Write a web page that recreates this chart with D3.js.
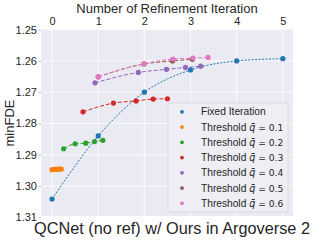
<!DOCTYPE html>
<html>
<head>
<meta charset="utf-8">
<script src="https://cdn.jsdelivr.net/npm/d3@7"></script>
<style>
  body { margin: 0; background: #fff; }
  text { font-family: "Liberation Sans", Arial, sans-serif; fill: #262626; }
</style>
</head>
<body>
<div id="chart"></div>
<script>
var width = 327, height = 245;
var plotLeft = 41, plotRight = 293, plotTop = 29, plotBottom = 216;

var xTicks = [0, 1, 2, 3, 4, 5];
var yTicks = [1.25, 1.26, 1.27, 1.28, 1.29, 1.30, 1.31];

var fixedX = [0, 1, 2, 3, 4, 5];
var fixedY = [1.3042, 1.2840, 1.2700, 1.2629, 1.2600, 1.2593];

var q1X = [0.0, 0.04, 0.08, 0.12, 0.16, 0.2];
var q1Y = [1.2948, 1.2947, 1.2947, 1.2946, 1.2946, 1.2946];
var q2X = [0.25, 0.50, 0.73, 0.92, 1.10];
var q2Y = [1.2881, 1.2865, 1.2863, 1.2858, 1.2854];
var q3X = [0.67, 1.33, 1.82, 2.19, 2.50];
var q3Y = [1.2763, 1.2735, 1.2728, 1.2722, 1.2721];
var q4X = [0.93, 1.87, 2.48, 2.89, 3.22];
var q4Y = [1.2670, 1.2637, 1.2627, 1.2621, 1.2617];
var q5X = [1.0, 1.99, 2.61, 3.04];
var q5Y = [1.2651, 1.2610, 1.2600, 1.2595];
var q6X = [1.0, 1.99, 2.62, 3.05, 3.38];
var q6Y = [1.2651, 1.2609, 1.2594, 1.2591, 1.2589];

var legendLabels = ['Fixed Iteration', '0.1', '0.2', '0.3', '0.4', '0.5', '0.6'];
var colors = ['#1f77b4', '#ff7f0e', '#2ca02c', '#d62728', '#9467bd', '#8c564b', '#e377c2'];

var series = [
  { xs: fixedX, ys: fixedY, dash: '2,1.5' },
  { xs: q1X, ys: q1Y, dash: '4,2' },
  { xs: q2X, ys: q2Y, dash: '4,2' },
  { xs: q3X, ys: q3Y, dash: '4,2' },
  { xs: q4X, ys: q4Y, dash: '4,2' },
  { xs: q5X, ys: q5Y, dash: '4,2' },
  { xs: q6X, ys: q6Y, dash: '4,2' }
];

var svg = d3.select('#chart').append('svg')
  .attr('width', width)
  .attr('height', height);

var x = d3.scaleLinear().domain([-0.24, 5.22]).range([plotLeft, plotRight]);
var y = d3.scaleLinear().domain([1.2498, 1.3096]).range([plotTop, plotBottom]);

svg.append('rect')
  .attr('x', plotLeft).attr('y', plotTop)
  .attr('width', plotRight - plotLeft).attr('height', plotBottom - plotTop)
  .attr('fill', '#eaeaf2');

// grid
svg.append('g').selectAll('line')
  .data(xTicks)
  .enter().append('line')
  .attr('x1', function(d) { return x(d); })
  .attr('x2', function(d) { return x(d); })
  .attr('y1', plotTop).attr('y2', plotBottom)
  .attr('stroke', '#fff').attr('stroke-width', 0.8);

svg.append('g').selectAll('line')
  .data(yTicks.filter(function(d) { return y(d) > plotTop && y(d) < plotBottom; }))
  .enter().append('line')
  .attr('y1', function(d) { return y(d); })
  .attr('y2', function(d) { return y(d); })
  .attr('x1', plotLeft).attr('x2', plotRight)
  .attr('stroke', '#fff').attr('stroke-width', 0.8);

// top x axis
var xAxis = svg.append('g')
  .attr('transform', 'translate(0,' + plotTop + ')')
  .call(d3.axisTop(x).tickValues(xTicks).tickSize(0).tickPadding(4).tickFormat(d3.format('d')));
xAxis.select('.domain').remove();
xAxis.selectAll('text').attr('font-size', 11).attr('fill', '#262626');

var yAxis = svg.append('g')
  .attr('transform', 'translate(' + plotLeft + ',0)')
  .call(d3.axisLeft(y).tickValues(yTicks).tickSize(2).tickPadding(2).tickFormat(d3.format('.2f')));
yAxis.select('.domain').remove();
yAxis.selectAll('line').attr('stroke', '#bbb');
yAxis.selectAll('text').attr('font-size', 11).attr('fill', '#262626');

svg.append('text')
  .attr('x', (plotLeft + plotRight) / 2).attr('y', 13)
  .attr('text-anchor', 'middle')
  .attr('font-size', 13)
  .text('Number of Refinement Iteration');

svg.append('text')
  .attr('transform', 'translate(14,' + 123 + ') rotate(-90)')
  .attr('text-anchor', 'middle')
  .attr('font-size', 13)
  .text('minFDE');

svg.append('text')
  .attr('x', 172).attr('y', 234)
  .attr('text-anchor', 'middle')
  .attr('font-size', 16.3)
  .text('QCNet (no ref) w/ Ours in Argoverse 2');

var line = d3.line()
  .x(function(d) { return x(d[0]); })
  .y(function(d) { return y(d[1]); })
  .curve(d3.curveMonotoneX);

var plot = svg.append('g');

series.forEach(function(s, i) {
  var pts = s.xs.map(function(v, j) { return [v, s.ys[j]]; });
  var g = plot.append('g');
  g.append('path')
    .datum(pts)
    .attr('d', line)
    .attr('fill', 'none')
    .attr('stroke', colors[i])
    .attr('stroke-width', 1)
    .attr('stroke-dasharray', s.dash);
  g.selectAll('circle')
    .data(pts)
    .enter().append('circle')
    .attr('cx', function(d) { return x(d[0]); })
    .attr('cy', function(d) { return y(d[1]); })
    .attr('r', 2.6)
    .attr('fill', colors[i]);
});

// legend
var lg = svg.append('g');
lg.append('rect')
  .attr('x', 168).attr('y', 103)
  .attr('width', 120).attr('height', 109)
  .attr('rx', 2)
  .attr('fill', '#eeeef4')
  .attr('stroke', '#d4d4da')
  .attr('stroke-width', 0.8);

var items = lg.selectAll('g.item')
  .data(legendLabels)
  .enter().append('g')
  .attr('transform', function(d, i) { return 'translate(0,' + (111.8 + i * 15.25) + ')'; });

items.append('circle')
  .attr('cx', 182).attr('cy', 0).attr('r', 1.9)
  .attr('fill', function(d, i) { return colors[i]; });

items.each(function(d, i) {
  var t = d3.select(this).append('text')
    .attr('x', 201).attr('y', 3.6)
    .attr('font-size', 10.2);
  if (i === 0) {
    t.text(d);
  } else {
    t.append('tspan').text('Threshold ');
    t.append('tspan').attr('font-family', 'DejaVu Sans').attr('font-style', 'italic').attr('font-size', 9.6).text('q\u0304');
    t.append('tspan').attr('font-family', 'DejaVu Sans').attr('font-size', 9.2).text(' = ' + d);
  }
});
</script>
</body>
</html>
